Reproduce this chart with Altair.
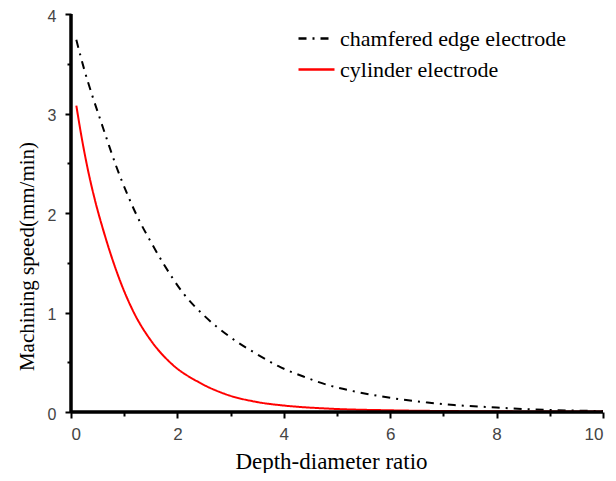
import altair as alt
import pandas as pd

series_names = ["chamfered edge electrode", "cylinder electrode"]

cham_x = [0.1, 0.25, 0.4, 0.55, 0.7, 0.85, 1.05, 1.25, 1.5, 1.75, 2.1, 2.5, 3.0, 3.5, 3.9,
          4.4, 4.9, 5.3, 5.8, 6.3, 6.7, 7.2, 8.0, 8.5, 9.0, 10.0]
cham_y = [3.74, 3.44, 3.18, 2.94, 2.70, 2.47, 2.2, 1.96, 1.71, 1.48, 1.2, 0.97, 0.75, 0.58, 0.46,
          0.35, 0.26, 0.21, 0.16, 0.12, 0.095, 0.07, 0.045, 0.03, 0.02, 0.01]

cyl_x = [0.1, 0.2, 0.3, 0.45, 0.6, 0.75, 0.95, 1.2, 1.5, 1.9, 2.4, 2.9, 3.5, 4.0, 4.8,
         6.0, 7.0, 8.0, 9.0, 10.0]
cyl_y = [3.08, 2.76, 2.48, 2.13, 1.84, 1.58, 1.28, 0.98, 0.72, 0.48, 0.30, 0.18, 0.10, 0.065, 0.035,
         0.017, 0.01, 0.007, 0.005, 0.004]

x_ticks = [0, 1, 2, 3, 4, 5, 6, 7, 8, 9, 10]
y_ticks = [0, 0.5, 1, 1.5, 2, 2.5, 3, 3.5, 4]
x_domain = [0, 10]
y_domain = [0, 4]

df = pd.concat([
    pd.DataFrame({"x": cham_x, "y": cham_y, "series": series_names[0]}),
    pd.DataFrame({"x": cyl_x, "y": cyl_y, "series": series_names[1]}),
])
frame_df = pd.DataFrame({"x": x_domain, "y": y_domain})

xs = alt.Scale(domain=x_domain, nice=False, zero=False)
ys = alt.Scale(domain=y_domain, nice=False, zero=False)

tick_font = "Liberation Sans"
title_font = "Liberation Serif"

legend = alt.Legend(
    title=None, orient="none", legendX=226, legendY=5, padding=0,
    labelFont=title_font, labelFontSize=22, labelColor="black",
    symbolType="stroke", symbolSize=1296, symbolStrokeWidth=2.5,
    labelOffset=4, rowPadding=-7, labelLimit=400,
)

x_major_test = "datum.value % 2 === 0"
y_major_test = "datum.value % 1 === 0"

x_axis = alt.Axis(
    values=x_ticks, title="Depth-diameter ratio", orient="bottom",
    labelExpr=f"{x_major_test} ? format(datum.value, 'd') : ''",
    labelFont=tick_font, labelFontSize=17, labelColor="#444", labelPadding=8,
    titleFont=title_font, titleFontSize=23, titleFontWeight="normal", titleColor="black",
    titleBaseline="alphabetic", titleX=260, titleY=56, titleAlign="center",
    domain=False, grid=False, tickColor="black", tickWidth=2,
    tickSize={"condition": {"test": x_major_test, "value": 6}, "value": 4})
y_axis = alt.Axis(
    values=y_ticks, title="Machining speed(mm/min)", orient="left",
    labelExpr=f"{y_major_test} ? format(datum.value, 'd') : ''",
    labelFont=tick_font, labelFontSize=16, labelColor="#444", labelPadding=9,
    labelOffset=2,
    titleFont=title_font, titleFontSize=21, titleFontWeight="normal", titleColor="black",
    titleX=-34, titleY=242, titleAlign="center", titleBaseline="bottom",
    domain=False, grid=False, tickColor="black", tickWidth=2,
    tickSize={"condition": {"test": y_major_test, "value": 6}, "value": 4})

lines = alt.Chart(df).mark_line(strokeWidth=2, clip=True, interpolate="monotone").encode(
    x=alt.X("x:Q", scale=xs, axis=x_axis),
    y=alt.Y("y:Q", scale=ys, axis=y_axis),
    color=alt.Color("series:N", scale=alt.Scale(domain=series_names, range=["black", "#ff0000"]),
                    legend=legend),
    strokeDash=alt.StrokeDash("series:N", scale=alt.Scale(domain=series_names,
                              range=[[8, 6, 2, 6], [1, 0]]), legend=legend),
)

# axis lines drawn through the scales
y_line = alt.Chart(frame_df).mark_rule(color="black", strokeWidth=3).encode(
    x=alt.XDatum(x_domain[0], type="quantitative", scale=xs, axis=x_axis),
    y=alt.YDatum(y_domain[0], type="quantitative", scale=ys, axis=y_axis),
    y2=alt.datum(y_domain[1]))
x_line = alt.Chart(frame_df).mark_rule(color="black", strokeWidth=3).encode(
    y=alt.YDatum(y_domain[0], type="quantitative", scale=ys, axis=y_axis),
    x=alt.XDatum(x_domain[0], type="quantitative", scale=xs, axis=x_axis),
    x2=alt.datum(x_domain[1]))

chart = alt.layer(lines, y_line, x_line).properties(
    width=532, height=398,
    autosize=alt.AutoSizeParams(type="none"),
    padding={"left": 63, "top": 6, "right": 5, "bottom": 61},
).configure_view(stroke=None)

chart.save("out.html", embed_options={"renderer": "svg", "actions": False})
